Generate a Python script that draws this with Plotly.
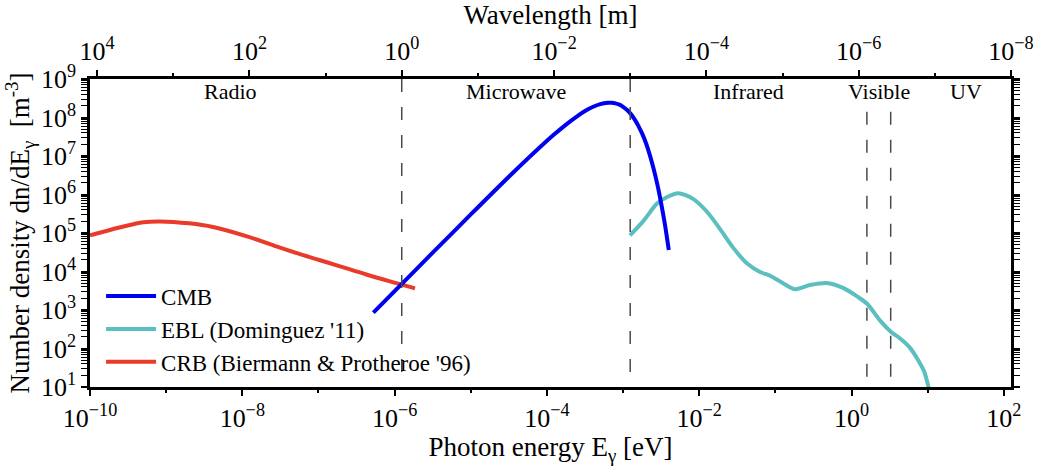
import math
import plotly.graph_objects as go

HC = 1.23984e-6  # eV * m, converts photon energy <-> wavelength

# ---------------- data ----------------
cmb_energy = [5.25e-7, 1.0e-6, 3.16e-6, 1.0e-5, 3.16e-5, 1.0e-4, 1.26e-4, 1.78e-4,
              2.51e-4, 3.16e-4, 3.98e-4, 5.01e-4, 6.31e-4, 7.08e-4, 7.94e-4, 8.91e-4,
              1.0e-3, 1.12e-3, 1.26e-3, 1.41e-3, 1.58e-3, 1.78e-3, 2.0e-3, 2.24e-3,
              2.51e-3, 2.82e-3, 3.16e-3, 3.55e-3, 3.98e-3]
cmb_density = [852, 3.09e3, 3.08e4, 3.03e5, 2.89e6, 2.48e7, 3.71e7, 6.55e7,
               1.09e8, 1.47e8, 1.87e8, 2.23e8, 2.42e8, 2.41e8, 2.32e8, 2.15e8,
               1.89e8, 1.58e8, 1.24e8, 9.07e7, 6.16e7, 3.81e7, 2.14e7, 1.07e7,
               4.71e6, 1.81e6, 5.91e5, 1.62e5, 3.6e4]

ebl_energy = [1.23e-3, 1.83e-3, 2.79e-3, 3.78e-3, 5.27e-3, 8.30e-3, 1.27e-2, 1.87e-2,
              2.78e-2, 4.25e-2, 6.28e-2, 8.51e-2, 0.126, 0.182, 0.285, 0.491,
              0.773, 1.18, 1.60, 2.37, 3.30, 4.34, 5.86, 7.46, 8.95, 10.1, 10.7]
ebl_density = [8.65e4, 2.0e5, 5.81e5, 8.59e5, 1.08e6, 7.69e5, 3.51e5, 1.28e5,
               4.17e4, 1.61e4, 9.73e3, 7.78e3, 4.97e3, 3.47e3, 4.44e3, 4.97e3,
               3.75e3, 2.26e3, 1.45e3, 528, 270, 182, 104, 50.2, 25.6, 11.1, 6.3]

crb_energy = [1.0e-10, 2.51e-10, 5.01e-10, 8.32e-10, 2.0e-9, 4.12e-9, 1.15e-8, 3.13e-8,
              5.73e-8, 1.05e-7, 1.92e-7, 4.35e-7, 1.18e-6, 1.85e-6]
crb_density = [8.65e4, 1.41e5, 1.91e5, 2.0e5, 1.78e5, 1.43e5, 8.17e4, 4.17e4,
               2.82e4, 1.96e4, 1.36e4, 8.22e3, 4.70e3, 3.65e3]

# band boundaries (wavelength, m) and how high each dashed line reaches
band_edge_wavelength = [1.0, 1e-3, 7.8e-7, 3.8e-7]
band_edge_top = [1e9, 1e9, 1.4e8, 1.4e8]
band_names = ["Radio", "Microwave", "Infrared", "Visible", "UV"]
band_label_energy = [7.1e-9, 3.93e-5, 4.38e-2, 2.30, 31.9]

energy_major = [1e-10, 1e-8, 1e-6, 1e-4, 1e-2, 1e0, 1e2]
energy_major_text = ["10<sup>−10</sup>", "10<sup>−8</sup>", "10<sup>−6</sup>",
                     "10<sup>−4</sup>", "10<sup>−2</sup>", "10<sup>0</sup>", "10<sup>2</sup>"]
energy_minor = [1e-9, 1e-7, 1e-5, 1e-3, 1e-1, 1e1]

wavelength_major = [1e4, 1e2, 1e0, 1e-2, 1e-4, 1e-6, 1e-8]
wavelength_major_text = ["10<sup>4</sup>", "10<sup>2</sup>", "10<sup>0</sup>",
                         "10<sup>−2</sup>", "10<sup>−4</sup>", "10<sup>−6</sup>",
                         "10<sup>−8</sup>"]
wavelength_minor = [1e3, 1e1, 1e-1, 1e-3, 1e-5, 1e-7]

density_major = [10 ** k for k in range(1, 10)]
density_major_text = ["10<sup>%d</sup>" % k for k in range(1, 10)]
density_minor = [m * 10 ** k for k in range(1, 9) for m in range(2, 10)]

# ---------------- figure ----------------
FONT = "Liberation Serif"
fig = go.Figure()

# band boundaries, drawn on the wavelength axis
for lam, top in zip(band_edge_wavelength, band_edge_top):
    fig.add_trace(go.Scatter(
        x=[lam, lam], y=[top, 10], xaxis="x2", yaxis="y", mode="lines",
        line=dict(color="#4a4a4a", width=1.5, dash="13px,15px"),
        showlegend=False, hoverinfo="skip"))

fig.add_trace(go.Scatter(x=ebl_energy, y=ebl_density, mode="lines",
                         name="EBL (Dominguez '11)", legendrank=2,
                         line=dict(color="#5bbfc0", width=4, shape="spline", smoothing=0.8)))
fig.add_trace(go.Scatter(x=crb_energy, y=crb_density, mode="lines",
                         name="CRB (Biermann &amp; Protheroe '96)", legendrank=3,
                         line=dict(color="#ea3a2a", width=4, shape="spline", smoothing=1.0)))
fig.add_trace(go.Scatter(x=cmb_energy, y=cmb_density, mode="lines",
                         name="CMB", legendrank=1,
                         line=dict(color="#0000f0", width=4, shape="spline", smoothing=0.6)))

for name, e in zip(band_names, band_label_energy):
    fig.add_annotation(x=math.log10(e), y=0.9605, xref="x", yref="paper",
                       text=name, showarrow=False, xanchor="center", yanchor="middle",
                       font=dict(family=FONT, size=22, color="black"))

x_lo, x_hi = -10.0, math.log10(HC / 1e-8)
tickfont = dict(family=FONT, size=26, color="black")
titlefont = dict(family=FONT, size=27, color="black")

fig.update_layout(
    width=1047, height=466,
    margin=dict(l=90, r=36, t=65, b=72),
    paper_bgcolor="white", plot_bgcolor="white",
    font=dict(family=FONT, color="black"),
    xaxis=dict(
        type="log", range=[x_lo, x_hi],
        tickmode="array", tickvals=energy_major, ticktext=energy_major_text,
        ticks="outside", ticklen=6, tickwidth=1.5, tickcolor="black",
        minor=dict(tickmode="array", tickvals=energy_minor, ticks="outside",
                   ticklen=3, tickwidth=1.5, tickcolor="black"),
        showline=True, linecolor="black", linewidth=2.5, mirror=False,
        showgrid=False, zeroline=False, tickfont=tickfont,
        title=dict(text="Photon energy E<sub>γ</sub> [eV]", font=titlefont, standoff=2),
    ),
    xaxis2=dict(
        type="log", overlaying="x", side="top", anchor="y",
        range=[math.log10(HC) - x_lo, math.log10(HC) - x_hi],
        tickmode="array", tickvals=wavelength_major, ticktext=wavelength_major_text,
        ticks="outside", ticklen=6, tickwidth=1.5, tickcolor="black",
        minor=dict(tickmode="array", tickvals=wavelength_minor, ticks="outside",
                   ticklen=3, tickwidth=1.5, tickcolor="black"),
        showline=True, linecolor="black", linewidth=2.5,
        showgrid=False, zeroline=False, tickfont=tickfont,
        title=dict(text="Wavelength [m]", font=titlefont, standoff=2),
    ),
    yaxis=dict(
        type="log", range=[1, 9],
        tickmode="array", tickvals=density_major, ticktext=density_major_text,
        ticks="outside", ticklen=6, tickwidth=1.5, tickcolor="black",
        minor=dict(tickmode="array", tickvals=density_minor, ticks="outside",
                   ticklen=3, tickwidth=1.2, tickcolor="black"),
        showline=True, linecolor="black", linewidth=2.5, mirror="allticks",
        showgrid=False, zeroline=False, tickfont=tickfont,
        title=dict(text="Number density dn/dE<sub>γ</sub>\u00a0 [m<sup>-3</sup>]",
                   font=titlefont, standoff=4),
    ),
    legend=dict(x=0.012, y=0.365, xanchor="left", yanchor="top",
                bgcolor="rgba(0,0,0,0)", borderwidth=0, itemwidth=50,
                font=dict(family=FONT, size=23, color="black"),
                tracegroupgap=0),
)

fig.write_html("out.html")
